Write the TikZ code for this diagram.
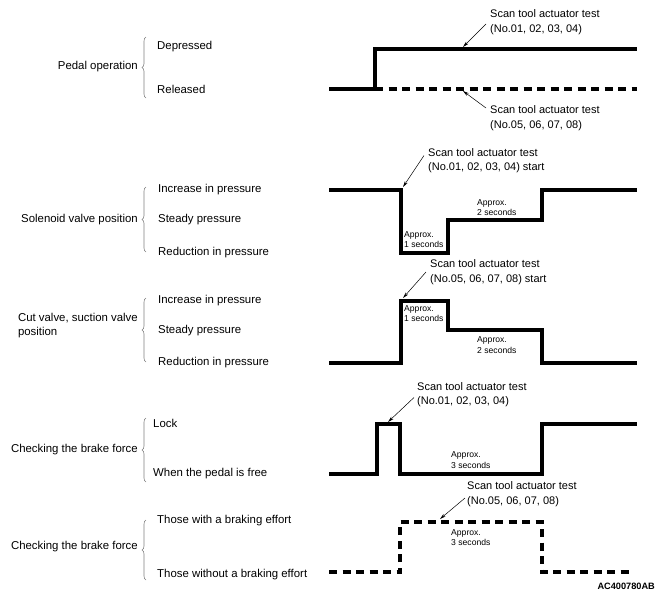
\documentclass[tikz,border=0pt]{standalone}
\usepackage{fontspec}
\setmainfont{Liberation Sans}
\usetikzlibrary{arrows.meta, decorations.pathreplacing}

\begin{document}
\begin{tikzpicture}[x=1pt, y=-1pt,
    signal/.style={line width=3.2pt, line join=miter},
    dsignal/.style={signal, dash pattern=on 8pt off 5.5pt},
    lbl/.style={font=\fontsize{11}{14.5}\selectfont, inner sep=0pt, align=left},
    side/.style={font=\fontsize{11.4}{14.5}\selectfont, inner sep=0pt, align=left},
    grp/.style={side, anchor=east},
    lvl/.style={side, anchor=west},
    note/.style={font=\fontsize{8.6}{10.5}\selectfont, inner sep=0pt, align=left, anchor=west},
    pointer/.style={-{Stealth[length=6pt,width=3.2pt]}, line width=0.5pt},
    bracket/.style={decorate, decoration={brace, amplitude=4pt}, draw=gray, line width=0.6pt}]
\useasboundingbox (0,0) rectangle (663,598);

%%% pedal operation
\node[grp] (pedal) at (138,67) {Pedal operation};
\draw[bracket] (146,98) -- (146,37);
\node[lvl] (depr) at (157,47) {Depressed};
\node[lvl] (rel) at (157,89) {Released};
\draw[signal] (329,89) -- (375,89) -- (375,49) -- (637,49);
\draw[dsignal] (375,89) -- (637,89);
\node[lbl, anchor=west] (scanA) at (490,22) {Scan tool actuator test\\(No.01, 02, 03, 04)};
\coordinate (onA) at (463,47);
\draw[pointer] ([shift={(-4,2)}]scanA.west) -- (onA);
\node[lbl, anchor=west] (scanB) at (490,118) {Scan tool actuator test\\(No.05, 06, 07, 08)};
\coordinate (onB) at (463,91);
\draw[pointer] ([shift={(-4,-10)}]scanB.west) -- (onB);

%%% solenoid valve
\node[grp] (sol) at (138,220) {Solenoid valve position};
\draw[bracket] (146,252) -- (146,187);
\node[lvl] (solinc) at (158,190) {Increase in pressure};
\node[lvl] (solst) at (158,220) {Steady pressure};
\node[lvl] (solred) at (158,253) {Reduction in pressure};
\draw[signal] (329,190) -- (401,190) -- (401,253) -- (448,253) -- (448,220)
    -- (542,220) -- (542,190) -- (637,190);
\node[lbl, anchor=west] (scanC) at (428,160.5) {Scan tool actuator test\\(No.01, 02, 03, 04) start};
\coordinate (onC) at (403,187);
\draw[pointer] ([shift={(-4,-5)}]scanC.west) -- (onC);
\node[note] (solone) at (404,239.5) {Approx.\\1 seconds};
\node[note] (soltwo) at (477,207.5) {Approx.\\2 seconds};

%%% cut valve, suction valve
\node[grp] (cut) at (138,325.5) {Cut valve, suction valve\\position};
\draw[bracket] (146,362) -- (146,298);
\node[lvl] (cutinc) at (158,301) {Increase in pressure};
\node[lvl] (cutst) at (158,331) {Steady pressure};
\node[lvl] (cutred) at (158,363) {Reduction in pressure};
\draw[signal] (329,363) -- (401,363) -- (401,301) -- (448,301) -- (448,330)
    -- (542,330) -- (542,363) -- (637,363);
\node[lbl, anchor=west] (scanD) at (430,272) {Scan tool actuator test\\(No.05, 06, 07, 08) start};
\coordinate (onD) at (403,298);
\draw[pointer] ([shift={(-4,0)}]scanD.west) -- (onD);
\node[note] (cutone) at (404,313.5) {Approx.\\1 seconds};
\node[note] (cuttwo) at (477,345) {Approx.\\2 seconds};

%%% brake force, lock
\node[grp] (lock) at (138,450) {Checking the brake force};
\draw[bracket] (146,482) -- (146,418);
\node[lvl] (lockon) at (153,423) {Lock};
\node[lvl] (lockoff) at (153,474) {When the pedal is free};
\draw[signal] (329,474) -- (377,474) -- (377,424) -- (400,424) -- (400,474)
    -- (542,474) -- (542,424) -- (637,424);
\node[lbl, anchor=west] (scanE) at (417,394.5) {Scan tool actuator test\\(No.01, 02, 03, 04)};
\coordinate (onE) at (388,422);
\draw[pointer] ([shift={(-3,3)}]scanE.west) -- (onE);
\node[note] (lockthree) at (451,460) {Approx.\\3 seconds};

%%% brake force, braking effort
\node[grp] (eff) at (138,547) {Checking the brake force};
\draw[bracket] (146,580) -- (146,520);
\node[lvl] (effwith) at (157,521) {Those with a braking effort};
\node[lvl] (effwo) at (157,575) {Those without a braking effort};
\draw[dsignal] (329,572) -- (400,572) -- (400,522) -- (542,522) -- (542,572) -- (630,572);
\node[lbl, anchor=west] (scanF) at (467,494) {Scan tool actuator test\\(No.05, 06, 07, 08)};
\coordinate (onF) at (440,519);
\draw[pointer] ([shift={(-2,4)}]scanF.west) -- (onF);
\node[note] (effthree) at (451,537.5) {Approx.\\3 seconds};

\node[font=\fontsize{9.2}{11}\selectfont\bfseries, inner sep=0pt, anchor=east] (code) at (655,586) {AC400780AB};
\end{tikzpicture}
\end{document}
